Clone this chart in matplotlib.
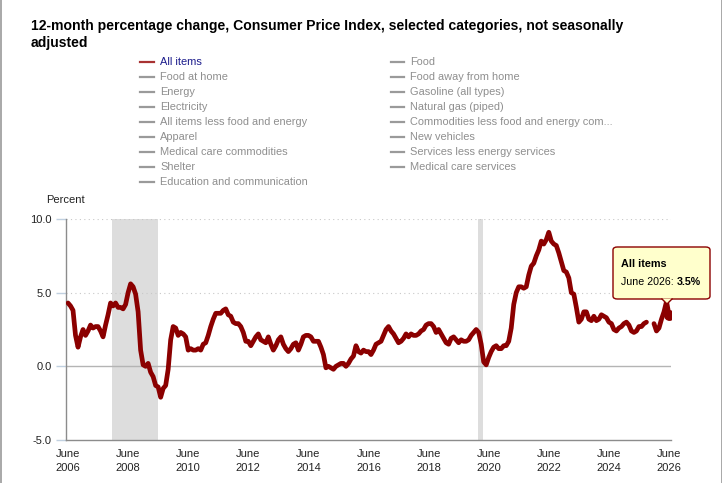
import numpy as np
import matplotlib
matplotlib.use("Agg")
import matplotlib.pyplot as plt
from matplotlib.lines import Line2D
from matplotlib.patches import FancyBboxPatch, Polygon

plt.rcParams['font.family'] = ['Liberation Sans', 'DejaVu Sans']

W, H = 722, 483

title1 = "12-month percentage change, Consumer Price Index, selected categories, not seasonally"
title2 = "adjusted"

legend_col1 = ["All items", "Food at home", "Energy", "Electricity",
               "All items less food and energy", "Apparel",
               "Medical care commodities", "Shelter",
               "Education and communication"]
legend_col2 = ["Food", "Food away from home", "Gasoline (all types)",
               "Natural gas (piped)", "Commodities less food and energy com...",
               "New vehicles", "Services less energy services",
               "Medical care services"]

# all items, 12-month % change, starting June 2006 (None = not published)
start_year, start_month = 2006, 6
all_items = [
    4.3, 4.1, 3.8, 2.1, 1.3, 2.0, 2.5,                          # 2006 (Jun-Dec)
    2.1, 2.4, 2.8, 2.6, 2.7, 2.7, 2.4, 2.0, 2.8, 3.5, 4.3, 4.1,  # 2007
    4.3, 4.0, 4.0, 3.9, 4.2, 5.0, 5.6, 5.4, 4.9, 3.7, 1.1, 0.1,  # 2008
    0.0, 0.2, -0.4, -0.7, -1.3, -1.4, -2.1, -1.5, -1.3, -0.2, 1.8, 2.7,  # 2009
    2.6, 2.1, 2.3, 2.2, 2.0, 1.1, 1.2, 1.1, 1.1, 1.2, 1.1, 1.5,  # 2010
    1.6, 2.1, 2.7, 3.2, 3.6, 3.6, 3.6, 3.8, 3.9, 3.5, 3.4, 3.0,  # 2011
    2.9, 2.9, 2.7, 2.3, 1.7, 1.7, 1.4, 1.7, 2.0, 2.2, 1.8, 1.7,  # 2012
    1.6, 2.0, 1.5, 1.1, 1.4, 1.8, 2.0, 1.5, 1.2, 1.0, 1.2, 1.5,  # 2013
    1.6, 1.1, 1.5, 2.0, 2.1, 2.1, 2.0, 1.7, 1.7, 1.7, 1.3, 0.8,  # 2014
    -0.1, 0.0, -0.1, -0.2, 0.0, 0.1, 0.2, 0.2, 0.0, 0.2, 0.5, 0.7,  # 2015
    1.4, 1.0, 0.9, 1.1, 1.0, 1.0, 0.8, 1.1, 1.5, 1.6, 1.7, 2.1,  # 2016
    2.5, 2.7, 2.4, 2.2, 1.9, 1.6, 1.7, 1.9, 2.2, 2.0, 2.2, 2.1,  # 2017
    2.1, 2.2, 2.4, 2.5, 2.8, 2.9, 2.9, 2.7, 2.3, 2.5, 2.2, 1.9,  # 2018
    1.6, 1.5, 1.9, 2.0, 1.8, 1.6, 1.8, 1.7, 1.7, 1.8, 2.1, 2.3,  # 2019
    2.5, 2.3, 1.5, 0.3, 0.1, 0.6, 1.0, 1.3, 1.4, 1.2, 1.2, 1.4,  # 2020
    1.4, 1.7, 2.6, 4.2, 5.0, 5.4, 5.4, 5.3, 5.4, 6.2, 6.8, 7.0,  # 2021
    7.5, 7.9, 8.5, 8.3, 8.6, 9.1, 8.5, 8.3, 8.2, 7.7, 7.1, 6.5,  # 2022
    6.4, 6.0, 5.0, 4.9, 4.0, 3.0, 3.2, 3.7, 3.7, 3.2, 3.1, 3.4,  # 2023
    3.1, 3.2, 3.5, 3.4, 3.3, 3.0, 2.9, 2.5, 2.4, 2.6, 2.7, 2.9,  # 2024
    3.0, 2.8, 2.4, 2.3, 2.4, 2.7, 2.7, 2.9, 3.0, None, None, 2.9,  # 2025
    2.4, 2.6, 3.2, 3.7, 4.4, 3.5,                                # 2026 (Jan-Jun)
]

recessions = [("2007-12", "2009-06"), ("2020-02", "2020-04")]
tick_years = [2006, 2008, 2010, 2012, 2014, 2016, 2018, 2020, 2022, 2024, 2026]
y_ticks = [-5.0, 0.0, 5.0, 10.0]

tip_title = "All items"
tip_label = "June 2026: "
tip_value = "3.5%"


def month_index(s):
    y, m = s.split("-")
    return (int(y) - start_year) * 12 + int(m) - start_month


def fx(px):
    return px / W


def fy(py):
    return 1 - py / H


vals = np.array([np.nan if v is None else v for v in all_items], dtype=float)
x = np.arange(len(vals))

fig = plt.figure(figsize=(W / 100, H / 100), dpi=100)
fig.patch.set_facecolor("white")

ax = fig.add_axes([fx(66), fy(440), (671 - 66) / W, (440 - 219) / H])
ax.set_xlim(-0.8, 240.8)
ax.set_ylim(-5, 10)

for a, b in recessions:
    ax.axvspan(month_index(a) - 0.4, month_index(b) - 0.2, color="#dddddd",
               lw=0, zorder=0)

for yv in [5.0, 10.0]:
    ax.axhline(yv, color="#c8c8c8", lw=0.8, ls=(0, (1, 3)), zorder=1)
ax.axhline(0, color="#b4b4b4", lw=1.0, zorder=1)

ax.plot(x, vals, color="#8b0000", lw=3.4, solid_joinstyle="round",
        solid_capstyle="round", zorder=3)
ax.plot(x[-1], vals[-1], "o", color="#8b0000", ms=6.8, zorder=4)

for s in ["top", "right"]:
    ax.spines[s].set_visible(False)
for s in ["left", "bottom"]:
    ax.spines[s].set_color("#8c8c8c")
    ax.spines[s].set_linewidth(1.0)

ax.set_yticks(y_ticks)
ax.set_yticklabels([f"{v:.1f}" for v in y_ticks])
ax.tick_params(axis="y", length=7.2, width=1, color="#c0d0e0", pad=3,
               labelsize=8, labelcolor="#222222")
ax.set_xticks([month_index(f"{yr}-06") for yr in tick_years])
ax.set_xticklabels([f"June\n{yr}" for yr in tick_years])
ax.tick_params(axis="x", length=0, pad=6.5, labelsize=8, labelcolor="#222222")
for lbl in ax.get_xticklabels():
    lbl.set_linespacing(1.55)

# title
fig.text(fx(31), fy(26), title1, fontsize=10.1, fontweight="bold", va="center")
fig.text(fx(31), fy(43), title2, fontsize=10.1, fontweight="bold", va="center")

# legend
for col, (mx0, mx1, tx) in zip([legend_col1, legend_col2],
                               [(140, 154, 160), (391, 404, 410)]):
    for i, name in enumerate(col):
        yy = 62 + 15 * i
        first = name == "All items"
        fig.add_artist(Line2D([fx(mx0), fx(mx1)], [fy(yy), fy(yy)],
                              color="#a83232" if first else "#9a9a9a", lw=1.6))
        fig.text(fx(tx), fy(yy), name, fontsize=7.9, va="center",
                 color="#1c1c8c" if first else "#8f8f8f")

fig.text(fx(46), fy(200), "Percent", fontsize=8, va="center", color="#222222")

# tooltip
box = FancyBboxPatch((fx(613), fy(299)), fx(710) - fx(613), fy(247) - fy(299),
                     boxstyle="round,pad=0,rounding_size=0.006",
                     transform=fig.transFigure, facecolor="#ffffcc",
                     edgecolor="#8b0000", lw=1.0, zorder=10)
fig.add_artist(box)
tri = Polygon([(fx(662), fy(298.5)), (fx(667), fy(304)), (fx(672), fy(298.5))],
              closed=True, transform=fig.transFigure, facecolor="#ffffcc",
              edgecolor="none", zorder=11)
fig.add_artist(tri)
fig.add_artist(Line2D([fx(662), fx(667), fx(672)], [fy(299), fy(304), fy(299)],
                      color="#8b0000", lw=1.0, zorder=12))
fig.text(fx(621), fy(264), tip_title, fontsize=7.8, fontweight="bold",
         va="center", zorder=13)
t1 = fig.text(fx(621), fy(282), tip_label, fontsize=7.7, va="center", zorder=13)
fig.canvas.draw()
bb = t1.get_window_extent()
fig.text(bb.x1 / W, fy(282), tip_value, fontsize=7.7, fontweight="bold",
         va="center", zorder=13)

# outer frame sides
fig.add_artist(Line2D([0.5 / W, 0.5 / W], [0, 1], color="#9a9a9a", lw=1.2))
fig.add_artist(Line2D([1 - 0.5 / W, 1 - 0.5 / W], [0, 1], color="#9a9a9a", lw=1.2))

fig.savefig("out.png", dpi=100)
